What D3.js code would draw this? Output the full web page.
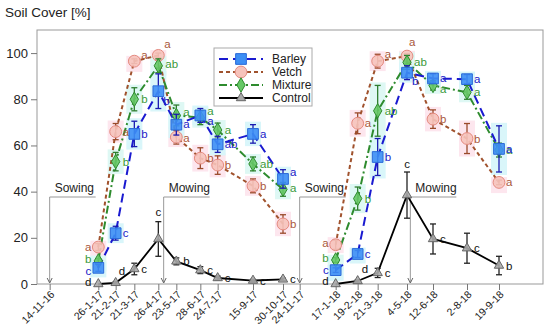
<!DOCTYPE html>
<html>
<head>
<meta charset="utf-8">
<script src="https://cdnjs.cloudflare.com/ajax/libs/d3/7.8.5/d3.min.js"></script>
<style>
  body { margin: 0; background: #fff; }
  text { font-family: "Liberation Sans", Arial, sans-serif; }
</style>
</head>
<body>
<svg id="canvas" width="550" height="336"></svg>
<script>
// sample dates (d-m-yy)
var sampleDates = ["26-1-17","21-2-17","21-3-17","26-4-17","23-5-17","28-6-17","24-7-17","15-9-17","30-10-17",
                   "17-1-18","19-2-18","21-3-18","4-5-18","12-6-18","2-8-18","19-9-18"];
var tickLabels = ["14-11-16","26-1-17","21-2-17","21-3-17","26-4-17","23-5-17","28-6-17","24-7-17","15-9-17","30-10-17","24-11-17",
                  "17-1-18","19-2-18","21-3-18","4-5-18","12-6-18","2-8-18","19-9-18"];
var seriesNames = ["Barley","Vetch","Mixture","Control"];

var barley  = [7, 22, 65, 83.5, 69, 73, 60.5, 65, 45.5, 6, 13, 55, 91.5, 89, 88.7, 58.5];
var vetch   = [16, 66, 96.5, 99, 63.6, 54.5, 51.5, 42.5, 26, 17, 69.6, 96.5, 98.7, 71.4, 63, 44];
var mixture = [10, 53, 80, 94.5, 73, 72, 66.7, 52, 41, 10.4, 37, 75, 96, 86, 83, 58];
var control = [0, 0.5, 6.5, 19.5, 9.8, 6, 2.6, 1.5, 2, 0, 1.3, 4.8, 38.5, 19.5, 15.5, 8];

var barleyErr  = [1.5, 3, 5.5, 7.5, 4.5, 3, 3.5, 4, 4, 1, 1.5, 8, 3, 2, 2, 10];
var vetchErr   = [1.5, 3.5, 1, 1, 3, 4.5, 4, 3, 4, 2, 4.5, 3, 1, 4, 6.5, 1];
var mixtureErr = [1, 4, 5, 3, 4.5, 3, 3, 3, 3, 1, 5, 11, 3, 2, 3, 3];
var controlErr = [0, 0.5, 2.5, 7.5, 1.5, 1.5, 0.8, 0.5, 0.5, 0, 0.5, 2, 10, 6.5, 6.5, 4];

var barleyLetters  = ["c","c","b","b","a","a","ab","a","a","c","c","b","b","a","a","a"];
var vetchLetters   = ["a","a","a","a","a","b","b","b","b","a","a","a","a","b","b","a"];
var mixtureLetters = ["b","b","b","ab","a","a","a","ab","a","b","b","ab","ab","a","a","a"];
var controlLetters = ["d","d","c","c","b","c","c","c","c","d","d","c","c","c","c","b"];

var eventDates  = ["14-11-16","4-5-17","24-11-17","9-5-18"];
var eventLabels = ["Sowing","Mowing","Sowing","Mowing"];

var parse = d3.timeParse("%d-%m-%y");
var width = 550, height = 336;
var margins = {left: 37, right: 7, top: 30, bottom: 52};

var canvas = d3.select("#canvas");

var x = d3.scaleTime()
  .domain([new Date(2016, 9, 26), new Date(2018, 10, 24)])
  .range([margins.left, width - margins.right]);
var y = d3.scaleLinear()
  .domain([0, 110])
  .range([height - margins.bottom, margins.top]);

var series = [
  {name: "Control", vals: control, err: controlErr, letters: controlLetters, line: "#000", dash: null,
   sym: d3.symbolTriangle, size: 38, fill: "#aaa", stroke: "#666", text: "#111", bar: "#222", hl: null},
  {name: "Vetch", vals: vetch, err: vetchErr, letters: vetchLetters, line: "#a0522d", dash: "4,3",
   sym: d3.symbolCircle, size: 110, fill: "#f6c3bb", stroke: "#e48a80", text: "#a9573a", bar: "#9a4a2a", hl: "#fde6ee"},
  {name: "Mixture", vals: mixture, err: mixtureErr, letters: mixtureLetters, line: "#2e8b2e", dash: "8,3,2,3",
   sym: d3.symbolDiamond, size: 60, fill: "#66c866", stroke: "#2e8b2e", text: "#3a9a3a", bar: "#2e7d2e", hl: "#def8f4"},
  {name: "Barley", vals: barley, err: barleyErr, letters: barleyLetters, line: "#1a1ad0", dash: "9,5",
   sym: d3.symbolSquare, size: 115, fill: "#3d8ff5", stroke: "#2a6ad8", text: "#2020c8", bar: "#1a1ab0", hl: "#d9f6fa"}
];

// letter offsets that differ from the default (right of the marker)
var letterPos = {
  "Vetch-0": [-7, 4, "end"], "Mixture-0": [-7, 2, "end"], "Barley-0": [-7, 7, "end"], "Control-0": [-7, 2, "end"],
  "Vetch-9": [-7, 2, "end"], "Mixture-9": [-7, 2, "end"], "Barley-9": [-7, 4, "end"], "Control-9": [-7, 1, "end"],
  "Control-1": [3, -8, "start"], "Control-10": [4, -8, "start"],
  "Control-3": [0, -23, "middle"], "Control-12": [0, -27, "middle"],
  "Vetch-2": [7, -2, "start"], "Vetch-3": [6, -7, "start"], "Vetch-11": [7, -3, "start"], "Vetch-12": [2, -10, "start"],
  "Barley-3": [5, 14, "start"], "Barley-12": [5, 12, "start"],
  "Mixture-3": [7, 2, "start"], "Mixture-12": [7, 4, "start"], "Mixture-13": [7, 8, "start"],
  "Mixture-4": [7, 1, "start"], "Barley-4": [7, 3, "start"], "Vetch-4": [7, 5, "start"],
  "Mixture-5": [7, -3, "start"], "Barley-5": [7, 10, "start"],
  "Barley-8": [7, -3, "start"], "Mixture-8": [7, 3, "start"]
};

// frame
canvas.append("rect")
  .attr("x", margins.left).attr("y", margins.top)
  .attr("width", width - margins.left - margins.right)
  .attr("height", height - margins.top - margins.bottom)
  .attr("fill", "none").attr("stroke", "#999");

// title
canvas.append("text").attr("x", 5).attr("y", 17)
  .attr("font-size", 13.5).attr("fill", "#222").text("Soil Cover [%]");

// y axis
var yAxis = canvas.append("g")
  .attr("transform", "translate(" + margins.left + ",0)")
  .call(d3.axisLeft(y).tickValues([0, 20, 40, 60, 80, 100]).tickSize(6).tickPadding(3));
yAxis.select(".domain").remove();
yAxis.selectAll("line").attr("stroke", "#777");
yAxis.selectAll("text").attr("font-size", 13).attr("fill", "#222").style("font-family", "Liberation Sans, Arial, sans-serif");

// x axis
var xAxis = canvas.append("g")
  .attr("transform", "translate(0," + (height - margins.bottom) + ")")
  .call(d3.axisBottom(x).tickValues(tickLabels.map(parse)).tickSize(6)
    .tickFormat(function(d, i) { return tickLabels[i]; }));
xAxis.select(".domain").remove();
xAxis.selectAll("line").attr("stroke", "#777");
xAxis.selectAll("text")
  .attr("font-size", 10.5).attr("fill", "#222")
  .style("font-family", "Liberation Sans, Arial, sans-serif")
  .attr("text-anchor", "end")
  .attr("dy", null)
  .attr("y", 0)
  .attr("transform", "translate(5,11) rotate(-45)");

// sowing / mowing events
var ev = canvas.append("g");
eventDates.forEach(function(dt, i) {
  var ex = x(parse(dt));
  var top = 197;
  ev.append("line").attr("x1", ex).attr("x2", ex).attr("y1", top).attr("y2", y(0) - 1)
    .attr("stroke", "#999").attr("stroke-width", 1);
  ev.append("path").attr("d", "M" + (ex - 2.5) + "," + (y(0) - 6) + " L" + ex + "," + (y(0) - 1) + " L" + (ex + 2.5) + "," + (y(0) - 6))
    .attr("fill", "none").attr("stroke", "#666").attr("stroke-width", 1);
  ev.append("line").attr("x1", ex).attr("x2", ex + 46).attr("y1", top).attr("y2", top)
    .attr("stroke", "#999");
  ev.append("text").attr("x", ex + 5).attr("y", top - 5)
    .attr("font-size", 12).attr("fill", "#222").text(eventLabels[i]);
});

var dates = sampleDates.map(parse);

// highlight boxes behind markers
series.forEach(function(s) {
  if (!s.hl) return;
  canvas.append("g").selectAll("rect").data(s.vals).enter().append("rect")
    .attr("x", function(d, i) { return x(dates[i]) - 8; })
    .attr("y", function(d, i) { return y(d + s.err[i]) - 3; })
    .attr("width", 16)
    .attr("height", function(d, i) { return Math.max(16, y(d - s.err[i]) - y(d + s.err[i]) + 6); })
    .attr("fill", s.hl);
});

// lines, one segment per season
series.forEach(function(s) {
  [[0, 9], [9, 16]].forEach(function(seg) {
    var pts = s.vals.slice(seg[0], seg[1]);
    var l = d3.line()
      .x(function(d, i) { return x(dates[seg[0] + i]); })
      .y(function(d) { return y(d); });
    canvas.append("path").datum(pts)
      .attr("d", l)
      .attr("fill", "none")
      .attr("stroke", s.line)
      .attr("stroke-width", s.name === "Control" ? 1.8 : 2)
      .attr("stroke-dasharray", s.dash);
  });
});

// error bars, markers, letters
series.forEach(function(s) {
  var g = canvas.append("g");
  s.vals.forEach(function(v, i) {
    var cx = x(dates[i]);
    var e = s.err[i];
    if (e > 0.3) {
      g.append("line").attr("x1", cx).attr("x2", cx).attr("y1", y(v + e)).attr("y2", y(v - e))
        .attr("stroke", s.bar).attr("stroke-width", 1.3);
      [v + e, v - e].forEach(function(t) {
        g.append("line").attr("x1", cx - 3).attr("x2", cx + 3).attr("y1", y(t)).attr("y2", y(t))
          .attr("stroke", s.bar).attr("stroke-width", 1.3);
      });
    }
  });
  g.selectAll("path.pt").data(s.vals).enter().append("path")
    .attr("class", "pt")
    .attr("d", d3.symbol().type(s.sym).size(s.size))
    .attr("transform", function(d, i) { return "translate(" + x(dates[i]) + "," + y(d) + ")"; })
    .attr("fill", s.fill).attr("fill-opacity", 0.9)
    .attr("stroke", s.stroke).attr("stroke-width", 1);
  g.selectAll("text").data(s.letters).enter().append("text")
    .attr("x", function(d, i) { var p = letterPos[s.name + "-" + i]; return x(dates[i]) + (p ? p[0] : 7); })
    .attr("y", function(d, i) { var p = letterPos[s.name + "-" + i]; return y(s.vals[i]) + (p ? p[1] : 4); })
    .attr("text-anchor", function(d, i) { var p = letterPos[s.name + "-" + i]; return p ? p[2] : "start"; })
    .attr("font-size", 11.5).attr("fill", s.text)
    .text(function(d) { return d; });
});

// legend
var leg = canvas.append("g");
leg.append("rect").attr("x", 214).attr("y", 48).attr("width", 98).attr("height", 58)
  .attr("fill", "#fff").attr("stroke", "#aaa");
seriesNames.forEach(function(n, i) {
  var s = series.filter(function(t) { return t.name === n; })[0];
  var ly = 59 + i * 13;
  leg.append("line").attr("x1", 219).attr("x2", 263).attr("y1", ly).attr("y2", ly)
    .attr("stroke", s.line).attr("stroke-width", 2).attr("stroke-dasharray", s.dash);
  leg.append("path").attr("d", d3.symbol().type(s.sym).size(s.size))
    .attr("transform", "translate(241," + ly + ")")
    .attr("fill", s.fill).attr("stroke", s.stroke);
  leg.append("text").attr("x", 272).attr("y", ly + 4).attr("font-size", 12).attr("fill", "#222").text(n);
});
</script>
</body>
</html>
